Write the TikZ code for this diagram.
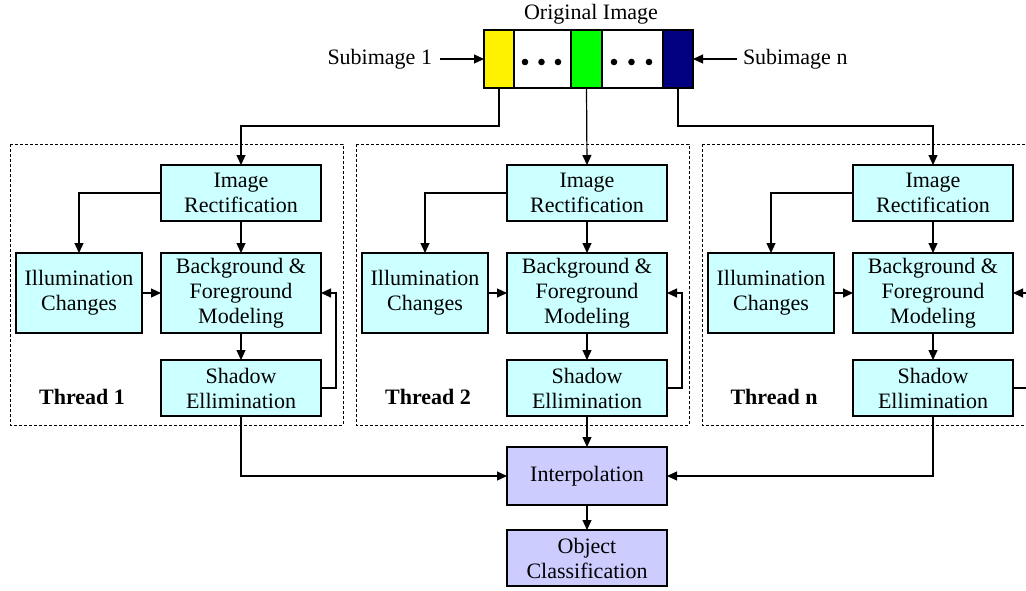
\documentclass[tikz,border=0pt]{standalone}
\usepackage{fontspec}
\setmainfont{Liberation Serif}
\usetikzlibrary{arrows.meta,calc}
\definecolor{boxcyan}{RGB}{204,255,255}
\definecolor{boxlav}{RGB}{204,204,255}
\definecolor{navyc}{RGB}{0,0,128}
\begin{document}
\begin{tikzpicture}[x=1pt,y=-1pt,
  font=\fontsize{22}{25}\selectfont,
  every node/.style={inner sep=0pt,outer sep=0pt},
  proc/.style={draw,line width=1.1pt,fill=boxcyan,align=center,minimum width=160pt,minimum height=56pt},
  procb/.style={proc,fill=boxlav},
  cell/.style={draw,line width=1.1pt,minimum height=58pt},
  arr/.style={line width=1.2pt,-{Triangle[length=10pt,width=9pt]}},
  thread/.style={draw,dash pattern=on 3pt off 2pt,line width=0.9pt},
  tlabel/.style={font=\fontsize{22}{25}\selectfont\bfseries}]
\useasboundingbox (0,0) rectangle (1026,590);
\clip (0,0) rectangle (1026,590);
\fill[white] (0,0) rectangle (1026,590);

% original image bar
\node (orig) at (591,14) {Original Image};
\node[cell,fill=yellow,minimum width=30pt] (s1) at (499,59) {};
\node[cell,fill=white,minimum width=57pt] (w1) at (542.5,59) {};
\node[cell,fill=green,minimum width=31pt] (s2) at (586.5,59) {};
\node[cell,fill=white,minimum width=61pt] (w2) at (632.5,59) {};
\node[cell,fill=navyc,minimum width=30pt] (sn) at (678,59) {};
\foreach \x in {525,541.5,558,614,631.5,649}
  \fill (\x,62) circle (3.3pt);
\node[anchor=east] (lab1) at (432,59) {Subimage 1};
\node[anchor=west] (labn) at (743,59) {Subimage n};
\draw[arr] ($(lab1.east)+(8,0)$) -- (s1.west);
\draw[arr] ($(labn.west)+(-6,0)$) -- (sn.east);

% threads
\foreach \i/\dx/\t in {1/0/1,2/346/2,3/692/n}{
  \draw[thread] (10+\dx,144) rectangle (343+\dx,425);
  \node[tlabel] (tl\i) at (82+\dx,397) {Thread \t};
  \node[proc] (ir\i) at (241+\dx,193) {Image\\Rectification};
  \node[proc,minimum width=126pt,minimum height=80pt] (il\i) at (79+\dx,293) {Illumination\\Changes};
  \node[proc,minimum height=80pt] (bg\i) at (241+\dx,293) {Background \&\\Foreground\\Modeling};
  \node[proc] (sh\i) at (241+\dx,388) {Shadow\\Ellimination};
  \draw[arr] (ir\i.west) -| (il\i.north);
  \draw[arr] (ir\i.south) -- (bg\i.north);
  \draw[arr] (il\i.east) -- (bg\i.west);
  \draw[arr] (bg\i.south) -- (sh\i.north);
  \draw[arr] (sh\i.east) -- ++(15,0) |- (bg\i.east);
}

\draw[arr] (s1.south) -- ++(0,38) -| (ir1.north);
\draw[arr] (s2.south) -- (ir2.north);
\draw[arr] (sn.south) -- ++(0,38) -| (ir3.north);

% bottom
\node[procb,minimum height=58pt] (interp) at (587,476) {Interpolation};
\node[procb] (oc) at (587,558) {Object\\Classification};
\draw[arr] (sh1.south) |- (interp.west);
\draw[arr] (sh2.south) -- (interp.north);
\draw[arr] (sh3.south) |- (interp.east);
\draw[arr] (interp.south) -- (oc.north);
\end{tikzpicture}
\end{document}
